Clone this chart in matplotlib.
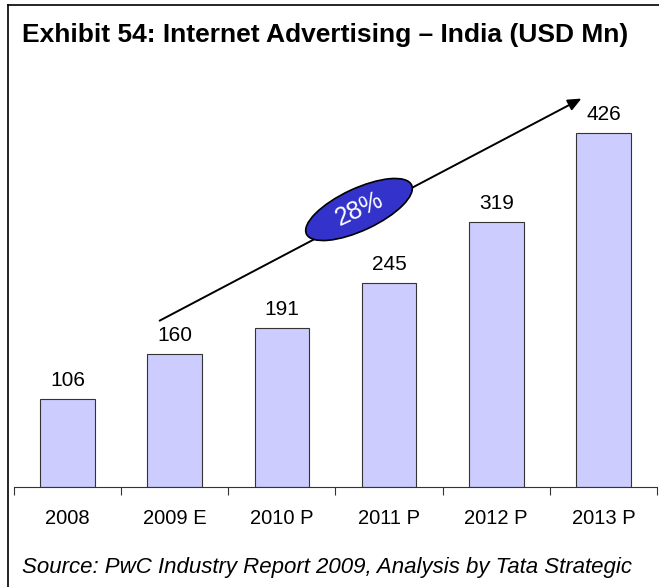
import matplotlib
matplotlib.use("Agg")
import matplotlib.pyplot as plt
from matplotlib.patches import Ellipse
from matplotlib.lines import Line2D

categories = ["2008", "2009 E", "2010 P", "2011 P", "2012 P", "2013 P"]
values = [106, 160, 191, 245, 319, 426]
cagr_label = "28%"

W, H = 659, 587
fig = plt.figure(figsize=(W / 100, H / 100), dpi=100)
plt.rcParams["font.family"] = ["Liberation Sans", "DejaVu Sans"]


def fx(px):
    return px / W


def fy(py):
    return 1 - py / H


# axes: x from 14 to 657 px, baseline at 487 px
ax_top = 60
ax = fig.add_axes([fx(14), fy(487), fx(657) - fx(14), fy(ax_top) - fy(487)])
ymax = (487 - ax_top) / 0.831
x = list(range(len(categories)))
ax.bar(x, values, width=0.51, color="#ccccff", edgecolor="#333333", linewidth=0.8)
for xi, v in zip(x, values):
    ax.text(xi, v + 11, str(v), ha="center", va="bottom", fontsize=15)
ax.set_xlim(-0.5, len(categories) - 0.5)
ax.set_ylim(0, ymax)
for s in ["top", "right", "left"]:
    ax.spines[s].set_visible(False)
ax.spines["bottom"].set_color("#333333")
ax.set_yticks([])
ax.set_xticks([i - 0.5 for i in range(len(categories) + 1)])
ax.set_xticklabels([])
ax.tick_params(axis="x", direction="out", length=6, color="#333333")
for xi, c in zip(x, categories):
    ax.text(xi, -0.074 * ymax, c, ha="center", va="center", fontsize=14.5,
            clip_on=False)

# trend arrow
ax.annotate("", xy=(4.818, 469), xytext=(0.836, 198.6),
            arrowprops=dict(arrowstyle="-|>,head_length=0.8,head_width=0.35",
                            color="black", lw=1.4), annotation_clip=False)

# ellipse with CAGR
fig.add_artist(Ellipse((359, H - 209.5), 116, 42, angle=25, transform=None,
                       facecolor="#3333cc", edgecolor="black", lw=1.2, zorder=5))
fig.text(fx(359), fy(209.5), cagr_label, ha="center", va="center", color="white",
         fontsize=18, rotation=25, zorder=6)

# title and source
fig.text(fx(22), fy(35), "Exhibit 54: Internet Advertising \u2013 India (USD Mn)",
         ha="left", va="center", fontsize=19, fontweight="bold")
fig.text(fx(22), fy(567), "Source: PwC Industry Report 2009, Analysis by Tata Strategic",
         ha="left", va="center", fontsize=16, style="italic")

# frame lines
fig.add_artist(Line2D([fx(8), 1], [fy(5), fy(5)], color="black", lw=1.2))
fig.add_artist(Line2D([fx(8), fx(8)], [fy(5), 0], color="black", lw=1.2))

fig.savefig("out.png", dpi=100, facecolor="white")
